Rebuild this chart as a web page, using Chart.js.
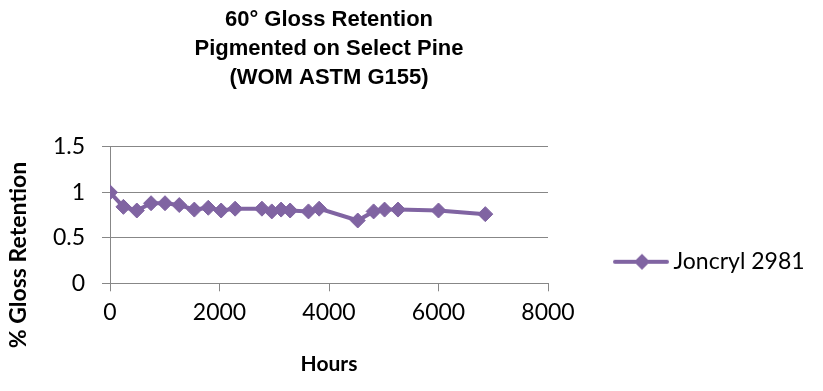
<!DOCTYPE html>
<html>
<head>
<meta charset="utf-8">
<script src="https://cdn.jsdelivr.net/npm/chart.js@4.4.1/dist/chart.umd.min.js"></script>
<style>
  html, body { margin: 0; padding: 0; background: #fff; }
  #wrap { width: 823px; height: 391px; position: relative; }
</style>
</head>
<body>
<div id="wrap"><canvas id="c" width="823" height="391"></canvas></div>
<script>
// ---- data ----
const titleLines = ['60° Gloss Retention', 'Pigmented on Select Pine', '(WOM ASTM G155)'];
const seriesName = 'Joncryl 2981';
const xTitle = 'Hours';
const yTitle = '% Gloss Retention';
const hours = [0, 245, 490, 750, 1005, 1265, 1540, 1795, 2030, 2285, 2775, 2955, 3125, 3290, 3625, 3820, 4525, 4815, 5015, 5260, 6000, 6855];
const retention = [1.0, 0.84, 0.80, 0.88, 0.88, 0.86, 0.81, 0.83, 0.80, 0.82, 0.82, 0.79, 0.81, 0.80, 0.79, 0.82, 0.69, 0.79, 0.81, 0.81, 0.80, 0.76];
const xTicks = [0, 2000, 4000, 6000, 8000];
const yTicks = [0, 0.5, 1, 1.5];

// ---- style ----
const PURPLE = '#8064A2';
const GRID = '#878787';
const FONT = 'Lato';
const LEGEND_WIDTH = 275;

// legend symbol: line with a diamond on it
function legendSymbol() {
  const cv = document.createElement('canvas');
  cv.width = 118; cv.height = 20;
  const g = cv.getContext('2d');
  g.strokeStyle = PURPLE; g.lineWidth = 4; g.lineCap = 'round';
  g.beginPath(); g.moveTo(64, 10); g.lineTo(116, 10); g.stroke();
  g.fillStyle = PURPLE;
  const cx = 91;
  g.beginPath(); g.moveTo(cx - 8, 10); g.lineTo(cx, 2); g.lineTo(cx + 8, 10); g.lineTo(cx, 18); g.closePath(); g.fill();
  return cv;
}
const symbol = legendSymbol();

// give the legend a fixed width (layout otherwise caps side boxes)
const legendWidthPlugin = {
  id: 'legendWidthPlugin',
  beforeUpdate(chart) {
    const lg = chart.legend;
    if (lg && !lg._fixedFit) {
      const orig = lg.fit.bind(lg);
      lg.fit = function () { orig(); this.width = LEGEND_WIDTH; };
      lg._fixedFit = true;
    }
  }
};

const yTitlePlugin = {
  id: 'yTitlePlugin',
  afterDraw(chart) {
    const ctx = chart.ctx;
    ctx.save();
    ctx.translate(19, 255);
    ctx.rotate(-Math.PI / 2);
    ctx.font = 'bold 23px ' + FONT;
    ctx.fillStyle = '#000';
    ctx.textAlign = 'center';
    ctx.textBaseline = 'middle';
    ctx.fillText(yTitle, 0, 0);
    ctx.restore();
  }
};

const plain = v => String(v);

new Chart(document.getElementById('c'), {
  type: 'line',
  data: {
    datasets: [{
      label: seriesName,
      data: hours.map((h, i) => ({ x: h, y: retention[i] })),
      borderColor: PURPLE,
      backgroundColor: PURPLE,
      borderWidth: 4,
      pointStyle: 'rectRot',
      pointRadius: 7.5,
      pointBorderWidth: 1,
      pointBackgroundColor: PURPLE,
      pointBorderColor: PURPLE,
      tension: 0
    }]
  },
  options: {
    responsive: false,
    animation: false,
    devicePixelRatio: 1,
    layout: { padding: { left: 0, right: 0, top: 0, bottom: 0 } },
    plugins: {
      title: {
        display: true,
        fullSize: false,
        text: titleLines,
        color: '#000',
        font: { family: 'Liberation Sans', size: 22, weight: 'bold', lineHeight: 1.3 },
        padding: { top: 6, bottom: 55 }
      },
      legend: {
        display: true,
        position: 'right',
        align: 'end',
        fullSize: false,
        labels: {
          usePointStyle: true,
          pointStyleWidth: 104,
          color: '#000',
          font: { family: FONT, size: 23 },
          padding: 10,
          generateLabels(chart) {
            const items = Chart.defaults.plugins.legend.labels.generateLabels(chart);
            items.forEach(it => { it.pointStyle = symbol; });
            return items;
          }
        }
      },
      tooltip: { enabled: false }
    },
    scales: {
      x: {
        type: 'linear',
        min: xTicks[0],
        max: xTicks[xTicks.length - 1],
        afterBuildTicks(s) { s.ticks = xTicks.map(v => ({ value: v })); },
        afterFit(s) { s.height = 107.7; },
        grid: { drawOnChartArea: false, drawTicks: true, tickLength: 8, color: GRID, lineWidth: 1 },
        border: { display: true, color: GRID, width: 1 },
        ticks: { color: '#000', font: { family: FONT, size: 23 }, padding: 7, maxRotation: 0, callback: plain },
        title: { display: true, text: xTitle, color: '#000', font: { family: FONT, size: 21, weight: 'bold' }, padding: { top: 0, bottom: 14 } }
      },
      y: {
        min: yTicks[0],
        max: yTicks[yTicks.length - 1],
        afterBuildTicks(s) { s.ticks = yTicks.map(v => ({ value: v })); },
        afterFit(s) { s.width = 110; },
        grid: { drawOnChartArea: true, drawTicks: true, tickLength: 8, color: GRID, lineWidth: 1 },
        border: { display: true, color: GRID, width: 1 },
        ticks: { color: '#000', font: { family: FONT, size: 23 }, padding: 17, callback: plain },
        title: { display: false }
      }
    }
  },
  plugins: [legendWidthPlugin, yTitlePlugin]
});
</script>
</body>
</html>
